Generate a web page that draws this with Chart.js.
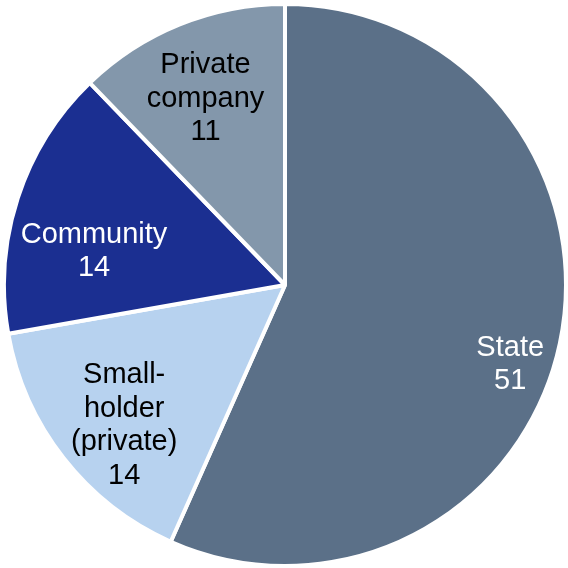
<!DOCTYPE html>
<html>
<head>
<meta charset="utf-8">
<script src="https://cdn.jsdelivr.net/npm/chart.js@4/dist/chart.umd.min.js"></script>
<style>
  html, body { margin: 0; padding: 0; background: #fff; }
  #wrap { width: 568px; height: 568px; }
</style>
</head>
<body>
<div id="wrap"><canvas id="ownershipPie"></canvas></div>
<script>
const categories = ['State', 'Small-\nholder\n(private)', 'Community', 'Private\ncompany'];
const shares = [51, 14, 14, 11];

const sliceColors = ['#5b7088', '#b7d2ef', '#1b2f91', '#8397ab'];
const labelColors = ['#ffffff', '#000000', '#ffffff', '#000000'];
// label anchor: fraction of radius and angle nudge (radians) from the slice middle
const labelPlace = [
    { r: 0.85, nudge: 0.13 },
    { r: 0.76, nudge: -0.055 },
    { r: 0.69, nudge: -0.14 },
    { r: 0.72, nudge: -0.02 }
];

// writes category and value inside each slice
const sliceLabels = {
    id: 'sliceLabels',
    afterDatasetsDraw(chart) {
        const ctx = chart.ctx;
        const meta = chart.getDatasetMeta(0);
        ctx.save();
        ctx.font = '29px "Liberation Sans", Arial, sans-serif';
        ctx.textAlign = 'center';
        ctx.textBaseline = 'middle';
        meta.data.forEach((arc, i) => {
            const mid = (arc.startAngle + arc.endAngle) / 2 + labelPlace[i].nudge;
            const rad = arc.outerRadius * labelPlace[i].r;
            const cx = arc.x + Math.cos(mid) * rad;
            const cy = arc.y + Math.sin(mid) * rad;
            const lines = categories[i].split('\n').concat(String(shares[i]));
            const lh = 33.5;
            const top = cy - (lines.length - 1) * lh / 2;
            ctx.fillStyle = labelColors[i];
            lines.forEach((t, k) => ctx.fillText(t, cx, top + k * lh));
        });
        ctx.restore();
    }
};

new Chart(document.getElementById('ownershipPie'), {
    type: 'pie',
    data: {
        labels: categories,
        datasets: [{
            data: shares,
            backgroundColor: sliceColors,
            borderColor: '#ffffff',
            borderWidth: 4
        }]
    },
    options: {
        responsive: true,
        maintainAspectRatio: false,
        animation: false,
        layout: { padding: { top: 2, left: 2 } },
        plugins: {
            legend: { display: false },
            tooltip: { enabled: false }
        }
    },
    plugins: [sliceLabels]
});
</script>
</body>
</html>
